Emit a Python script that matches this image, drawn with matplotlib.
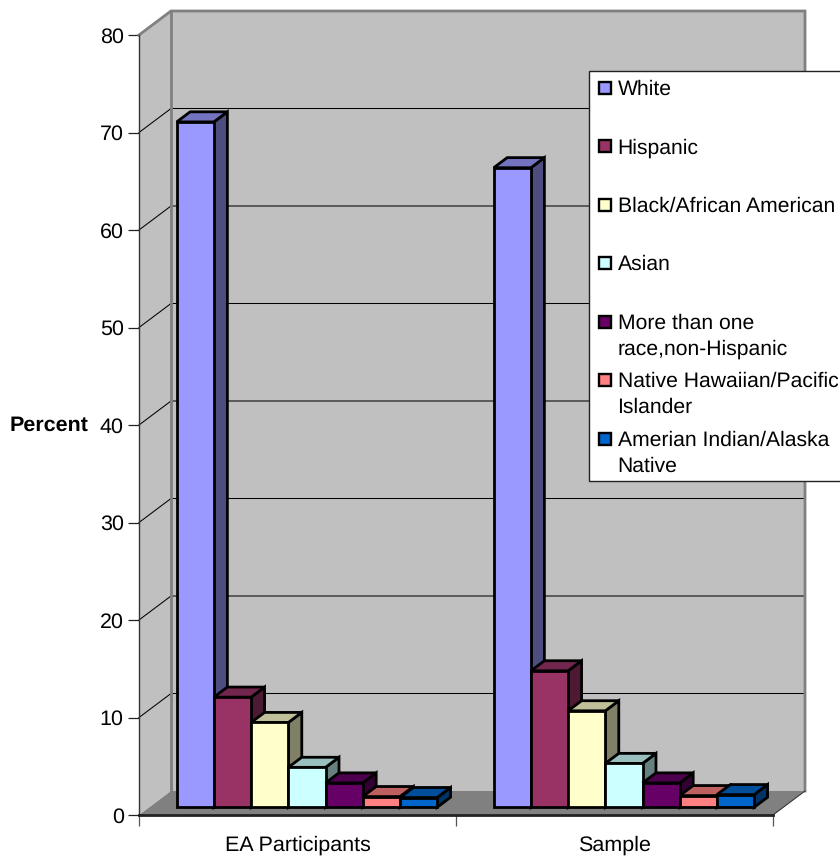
import matplotlib
matplotlib.use("Agg")
import matplotlib.pyplot as plt
from matplotlib.patches import Polygon, Rectangle
from matplotlib.colors import to_rgb

plt.rcParams['font.family'] = ['Liberation Sans', 'DejaVu Sans']
plt.rcParams['text.hinting'] = 'none'

groups = ['EA Participants', 'Sample']
races = ['White', 'Hispanic', 'Black/African American', 'Asian',
         'More than one\nrace,non-Hispanic', 'Native Hawaiian/Pacific\nIslander',
         'Amerian Indian/Alaska\nNative']
ea_values = [70.3, 11.3, 8.7, 4.1, 2.5, 1.1, 1.0]
sample_values = [65.6, 14.0, 9.9, 4.5, 2.5, 1.2, 1.3]
colors = ['#9999FF', '#993366', '#FFFFCC', '#CCFFFF', '#660066', '#FF8080', '#0066CC']
legend_rows = [88, 146, 205, 263, 322, 380, 439]

W, H = 840, 856
FONT = 15.45
fig = plt.figure(figsize=(W / 100, H / 100), dpi=100, facecolor='white')
# axes frame is the front plane of the 3d box
ax = fig.add_axes([139 / W, 1 - 815 / H, (773 - 139) / W, (815 - 35) / H])
ax.set_xlim(0, 2)
ax.set_ylim(0, 80)
ax.patch.set_visible(False)

# oblique depth of the box, in data units
DX = 32 / 317
DY = 24 / 9.75
BAR_W = 37.2 / 317
GAP = 27.5 / 317
DEPTH_START = 0.32
DEPTH_BAR = 0.42


def poly(pts, fc, ec='none', lw=0, z=1):
    ax.add_patch(Polygon(pts, closed=True, facecolor=fc, edgecolor=ec, linewidth=lw,
                         joinstyle='miter', clip_on=False, zorder=z))


def shade(color, k):
    return tuple(c * k for c in to_rgb(color))


# walls and floor
poly([(DX, DY), (2 + DX, DY), (2 + DX, 80 + DY), (DX, 80 + DY)], '#C0C0C0')
poly([(0, 0), (DX, DY), (DX, 80 + DY), (0, 80)], '#C0C0C0')
poly([(0, 0), (2, 0), (2 + DX, DY), (DX, DY)], '#808080')

# gridlines run along the side wall and across the back wall
for v in range(10, 80, 10):
    ax.plot([0, DX, 2 + DX], [v, v + DY, v + DY], color='black', lw=0.75, clip_on=False, zorder=2)

# wall edges
ax.plot([0, DX, 2 + DX, 2 + DX], [80, 80 + DY, 80 + DY, DY], color='#808080', lw=2.0,
        clip_on=False, zorder=2, solid_joinstyle='miter')
ax.plot([DX, DX], [DY, 80 + DY], color='#808080', lw=2.0, clip_on=False, zorder=2)
ax.plot([2, 2 + DX], [0, DY], color='#333333', lw=0.75, clip_on=False, zorder=2)

# bars, left to right so each one overlaps the side of the previous
z = 3
for g, values in enumerate([ea_values, sample_values]):
    for i, (val, col) in enumerate(zip(values, colors)):
        x0 = g + GAP + i * BAR_W + DEPTH_START * DX
        x1 = x0 + BAR_W
        b = DEPTH_START * DY
        t = b + val
        dx = DEPTH_BAR * DX
        dy = DEPTH_BAR * DY
        style = dict(ec='black', lw=2.0, z=z)
        poly([(x1, b), (x1 + dx, b + dy), (x1 + dx, t + dy), (x1, t)], shade(col, 0.5), **style)
        poly([(x0, t), (x1, t), (x1 + dx, t + dy), (x0 + dx, t + dy)], shade(col, 0.75), **style)
        poly([(x0, b), (x1, b), (x1, t), (x0, t)], col, **style)
        z += 1

# axes
for side in ['top', 'right']:
    ax.spines[side].set_visible(False)
ax.spines['left'].set_linewidth(1.0)
ax.spines['left'].set_color('#333333')
ax.spines['bottom'].set_linewidth(2.0)
ax.spines['bottom'].set_color('#222222')
ax.spines['left'].set_zorder(2.5)
ax.spines['bottom'].set_zorder(2.5)
ax.set_yticks(range(0, 81, 10))
ax.tick_params(axis='y', length=8, width=0.9, color='#222222', labelsize=FONT, pad=3)
ax.set_xticks([0, 1, 2])
ax.set_xticklabels([])
ax.tick_params(axis='x', length=8, width=0.9, color='#555555')
ax.set_xticks([0.5, 1.5], minor=True)
ax.set_xticklabels(groups, minor=True, fontsize=FONT)
ax.tick_params(axis='x', which='minor', length=0, pad=15)

fig.text(10 / W, 1 - 425 / H, 'Percent', fontsize=FONT, fontweight='bold', ha='left', va='center')

# legend box runs off the right edge of the figure
fig.add_artist(Rectangle((589 / W, 1 - 481 / H), 260 / W, 410 / H, transform=fig.transFigure,
                         facecolor='white', edgecolor='#222222', linewidth=1.0, zorder=20))
for name, col, row in zip(races, colors, legend_rows):
    fig.add_artist(Rectangle((599 / W, 1 - (row + 6) / H), 12 / W, 12 / H, transform=fig.transFigure,
                             facecolor=col, edgecolor='black', linewidth=1.7, zorder=21))
    fig.text(617.5 / W, 1 - (row - 8) / H, name, fontsize=15.2, ha='left', va='top',
             linespacing=1.37, zorder=22)

fig.savefig('out.png', dpi=100)
